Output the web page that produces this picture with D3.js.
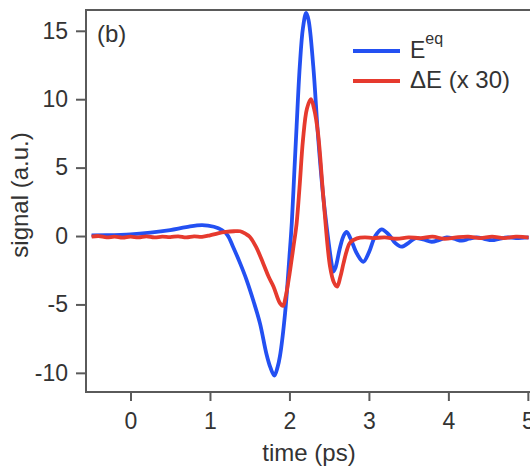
<!DOCTYPE html>
<html>
<head>
<meta charset="utf-8">
<script src="https://cdnjs.cloudflare.com/ajax/libs/d3/7.8.5/d3.min.js"></script>
<style>
  html, body { margin: 0; padding: 0; background: #fff; }
  svg { display: block; font-family: "Liberation Sans", Arial, Helvetica, sans-serif; }
</style>
</head>
<body>
<svg id="chart" width="530" height="466"></svg>
<script>
// ---- data ----
const eqTime = [-0.49,-0.3,0,0.25,0.5,0.7,0.9,1.05,1.15,1.22,1.29,1.38,1.46,1.55,1.63,1.71,1.76,1.81,1.85,1.88,1.945,2.0,2.03,2.06,2.09,2.13,2.17,2.21,2.24,2.30,2.36,2.42,2.47,2.53,2.55,2.58,2.63,2.68,2.72,2.77,2.85,2.93,3.0,3.08,3.16,3.25,3.33,3.41,3.5,3.58,3.68,3.79,3.88,3.98,4.07,4.17,4.26,4.36,4.45,4.55,4.64,4.74,4.85,5.01];
const eqValue = [0.05,0.06,0.12,0.25,0.44,0.65,0.8,0.68,0.44,0.07,-0.78,-2.0,-3.2,-4.8,-6.4,-8.6,-9.6,-10.2,-9.6,-8.8,-5.65,-1.5,1.0,4.5,8.0,12.4,15.2,16.3,15.8,12.4,7.3,3.2,0.6,-2.0,-2.6,-2.3,-1.0,0.0,0.3,-0.2,-1.3,-1.88,-1.2,0.0,0.49,0.1,-0.5,-0.78,-0.5,-0.17,-0.25,-0.42,-0.3,-0.1,-0.2,-0.34,-0.2,-0.1,-0.2,-0.3,-0.2,-0.1,-0.15,-0.1];

const dTime = [-0.49,-0.4,-0.3,-0.2,-0.1,0,0.1,0.2,0.3,0.4,0.5,0.6,0.7,0.8,0.9,1.0,1.1,1.2,1.3,1.38,1.45,1.50,1.58,1.67,1.74,1.80,1.88,1.92,1.95,1.99,2.05,2.09,2.13,2.17,2.22,2.27,2.31,2.36,2.43,2.51,2.56,2.60,2.64,2.68,2.72,2.76,2.85,2.95,3.05,3.2,3.35,3.5,3.65,3.8,3.95,4.1,4.25,4.4,4.55,4.7,4.85,5.01];
const dValue = [-0.05,0.0,-0.1,-0.05,-0.12,-0.05,-0.1,-0.02,-0.1,-0.05,-0.08,-0.02,-0.1,-0.03,-0.06,0.05,0.2,0.3,0.35,0.35,0.15,-0.05,-0.8,-2.0,-3.0,-3.7,-4.9,-5.1,-4.5,-3.2,-0.8,0.9,3.8,7.0,9.3,10.0,9.3,7.5,2.6,-2.2,-3.4,-3.7,-3.0,-2.0,-1.1,-0.5,-0.17,-0.1,-0.15,-0.1,-0.2,-0.1,-0.15,-0.05,-0.2,-0.1,-0.05,-0.15,-0.05,-0.15,-0.05,-0.12];

const xTicks = [0,1,2,3,4,5];
const yTicks = [-10,-5,0,5,10,15];
const seriesNames = ["E", "\u0394E (x 30)"];
const seriesColors = ["#2350f2", "#e63a2e"];

// ---- chart ----
const svg = d3.select("#chart");
const mLeft = 86, mRight = 535, mTop = 10, mBottom = 392;
const x = d3.scaleLinear().domain([-0.56, 5.09]).range([mLeft, mRight]);
const y = d3.scaleLinear().domain([-11.4, 16.52]).range([mBottom, mTop]);
const axisColor = "#5a5a5a";
const textColor = "#333";

// frame
svg.append("rect").attr("x", mLeft).attr("y", mTop).attr("width", mRight - mLeft).attr("height", mBottom - mTop)
  .attr("fill", "none").attr("stroke", axisColor).attr("stroke-width", 2);

// axes
const xAxis = svg.append("g").attr("transform", `translate(0,${mBottom})`)
  .call(d3.axisBottom(x).tickValues(xTicks).tickSize(9).tickPadding(12).tickFormat(d3.format("d")));
const yAxis = svg.append("g").attr("transform", `translate(${mLeft},0)`)
  .call(d3.axisLeft(y).tickValues(yTicks).tickSize(10).tickPadding(8).tickFormat(d3.format("d")));
[xAxis, yAxis].forEach(g => {
  g.select(".domain").remove();
  g.selectAll(".tick line").attr("stroke", axisColor).attr("stroke-width", 2);
  g.selectAll(".tick text").attr("fill", textColor).style("font-size", "23px")
    .style("font-family", "'Liberation Sans', Arial, sans-serif");
});
yAxis.selectAll(".tick text").text(d => d < 0 ? "-" + Math.abs(d) : d);

// axis titles
svg.append("text").attr("x", 309).attr("y", 461).attr("text-anchor", "middle")
  .attr("fill", textColor).style("font-size", "24px").text("time (ps)");
svg.append("text").attr("transform", "translate(28,195) rotate(-90)").attr("text-anchor", "middle")
  .attr("fill", textColor).style("font-size", "24px").text("signal (a.u.)");

// panel label
svg.append("text").attr("x", 97).attr("y", 42).attr("fill", textColor).style("font-size", "24px").text("(b)");

// lines
const line = d3.line().x(d => x(d[0])).y(d => y(d[1])).curve(d3.curveCatmullRom.alpha(0.5));
const eqData = eqTime.map((t, i) => [t, eqValue[i]]);
const dData = dTime.map((t, i) => [t, dValue[i]]);
svg.append("path").datum(eqData).attr("d", line).attr("fill", "none")
  .attr("stroke", seriesColors[0]).attr("stroke-width", 3.8).attr("stroke-linejoin", "round");
svg.append("path").datum(dData).attr("d", line).attr("fill", "none")
  .attr("stroke", seriesColors[1]).attr("stroke-width", 3.8).attr("stroke-linejoin", "round");

// legend
const legY = [51, 81];
seriesColors.forEach((c, i) => {
  svg.append("line").attr("x1", 353).attr("x2", 400).attr("y1", legY[i]).attr("y2", legY[i])
    .attr("stroke", c).attr("stroke-width", 3.8);
});
const t1 = svg.append("text").attr("x", 410).attr("y", 58).attr("fill", textColor).style("font-size", "23px");
t1.append("tspan").text(seriesNames[0]);
t1.append("tspan").attr("dy", -14).style("font-size", "16px").text("eq");
svg.append("text").attr("x", 410).attr("y", 88).attr("fill", textColor).style("font-size", "24px").text(seriesNames[1]);
</script>
</body>
</html>
